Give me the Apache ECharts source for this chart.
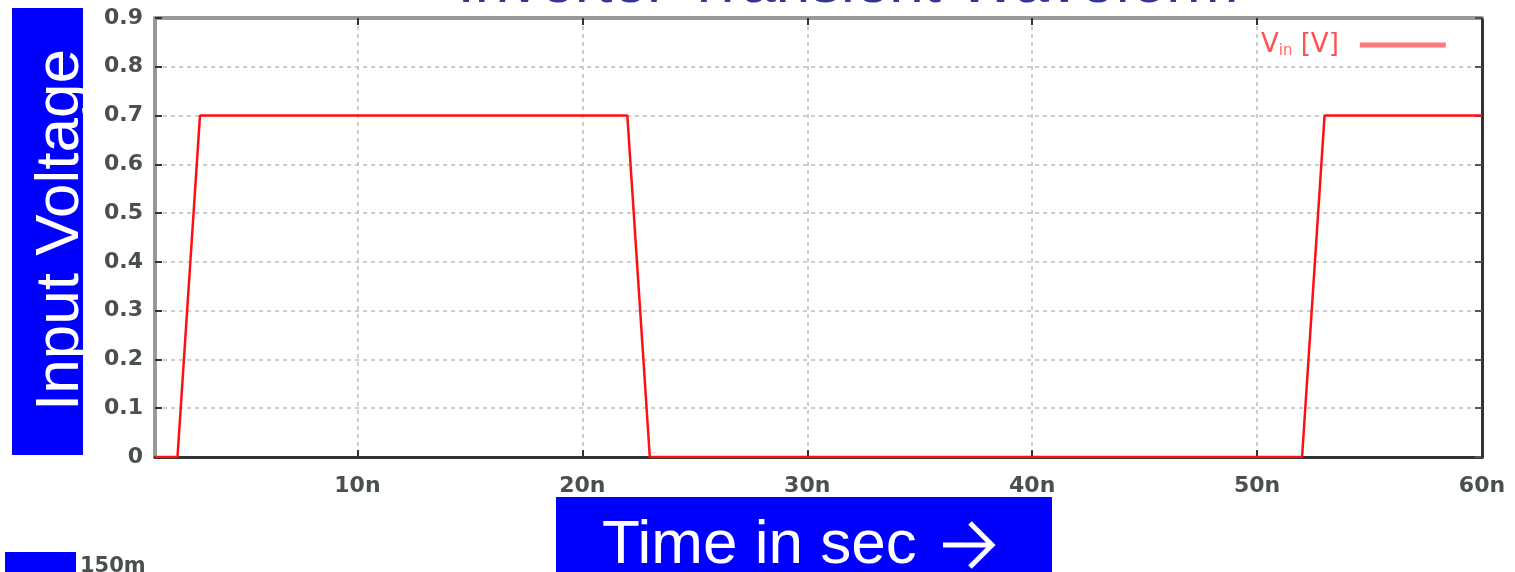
<!DOCTYPE html>
<html>
<head>
<meta charset="utf-8">
<script src="https://cdn.jsdelivr.net/npm/echarts@6/dist/echarts.min.js"></script>
<style>html,body{margin:0;padding:0;background:#fff;}#c{width:1515px;height:572px;}</style>
</head>
<body>
<div id="c"></div>
<script>
// time in ns, voltage in V
const timeNs = [1, 2, 3, 22, 23, 52, 53, 60];
const vin = [0, 0, 0.7, 0.7, 0, 0, 0.7, 0.7];
const xTicks = [10, 20, 30, 40, 50, 60];
const yTicks = [0, 0.1, 0.2, 0.3, 0.4, 0.5, 0.6, 0.7, 0.8, 0.9];
const seriesName = 'Vin';
const titleText = 'Inverter Transient Waveform';
const yTitle = 'Input Voltage';
const xTitle = 'Time in sec';

const chart = echarts.init(document.getElementById('c'), null, {renderer: 'canvas'});
const lblFont = {fontFamily: 'DejaVu Sans', fontWeight: 'bold', fontSize: 22, color: '#4a4f4f'};
const dash = {type: [4, 4], color: '#bdbdbd', width: 1.5};

chart.setOption({
  animation: false,
  grid: {left: 155, right: 33, top: 18, bottom: 115},
  legend: {
    data: [seriesName],
    left: 1256, top: 27, align: 'right',
    itemWidth: 86, itemHeight: 14,
    lineStyle: {color: '#ff7b7b', width: 5},
    itemStyle: {opacity: 0},
    formatter: () => '{a|V}{b|in}{a| [V]}',
    textStyle: {
      padding: [0, 16, 0, 0],
      rich: {
        a: {fontFamily: 'DejaVu Sans', fontSize: 26, color: '#ff5050'},
        b: {fontFamily: 'DejaVu Sans', fontSize: 15, color: '#ff6a6a', verticalAlign: 'bottom', padding: [12, 0, 0, 0]}
      }
    }
  },
  xAxis: [{
    type: 'value', min: 1, max: 60, position: 'bottom',
    axisLine: {show: true, onZero: false, lineStyle: {color: '#333', width: 3}},
    axisTick: {show: true, inside: true, length: 7, customValues: xTicks, lineStyle: {color: '#333', width: 2}},
    axisLabel: Object.assign({customValues: xTicks, margin: 18, formatter: v => v + 'n'}, lblFont),
    splitLine: {show: true, lineStyle: dash}
  }, {
    type: 'value', min: 1, max: 60, position: 'top',
    axisLine: {show: true, onZero: false, lineStyle: {color: '#999', width: 4}},
    axisTick: {show: true, inside: true, length: 7, customValues: xTicks, lineStyle: {color: '#333', width: 2}},
    axisLabel: {show: false},
    splitLine: {show: false}
  }],
  yAxis: [{
    type: 'value', min: 0, max: 0.9, interval: 0.1, position: 'left',
    axisLine: {show: true, onZero: false, lineStyle: {color: '#999', width: 4}},
    axisTick: {show: true, inside: true, length: 7, lineStyle: {color: '#333', width: 2}},
    axisLabel: Object.assign({margin: 12, formatter: v => (Math.abs(v) < 1e-9 ? '0' : v.toFixed(1))}, lblFont),
    splitLine: {show: true, lineStyle: dash}
  }, {
    type: 'value', min: 0, max: 0.9, interval: 0.1, position: 'right',
    axisLine: {show: true, onZero: false, lineStyle: {color: '#333', width: 3}},
    axisTick: {show: true, inside: true, length: 7, lineStyle: {color: '#555', width: 2}},
    axisLabel: {show: false},
    splitLine: {show: false}
  }],
  series: [{
    name: seriesName, type: 'line', xAxisIndex: 0, yAxisIndex: 0,
    data: timeNs.map((t, i) => [t, vin[i]]),
    symbol: 'none', color: '#ff0000',
    lineStyle: {color: '#ff1010', width: 2.5}, z: 3
  }],
  graphic: [
    {type: 'text', z: 10, x: 848, y: -15.5, style: {text: titleText, font: '62px "Liberation Sans", Arial', fill: '#333399', textAlign: 'center', textVerticalAlign: 'middle'}},
    {type: 'rect', z: 10, shape: {x: 12, y: 8, width: 71, height: 447}, style: {fill: '#0000ff'}},
    {type: 'text', z: 11, x: 61, y: 230, rotation: Math.PI / 2, style: {text: yTitle, font: '62px "Liberation Sans", Arial', fill: '#ffffff', textAlign: 'center', textVerticalAlign: 'middle'}},
    {type: 'rect', z: 12, shape: {x: 83, y: 8, width: 14, height: 447}, style: {fill: '#ffffff'}},
    {type: 'rect', z: 10, shape: {x: 556, y: 497, width: 496, height: 80}, style: {fill: '#0000ff'}},
    {type: 'text', z: 11, x: 602, y: 545.5, style: {text: xTitle, font: '62px "Liberation Sans", Arial', fill: '#ffffff', textAlign: 'left', textVerticalAlign: 'middle'}},
    {type: 'polyline', z: 11, shape: {points: [[943, 545], [991, 545]]}, style: {stroke: '#ffffff', lineWidth: 5, fill: null}},
    {type: 'polyline', z: 11, shape: {points: [[970, 523], [992, 545], [970, 567]]}, style: {stroke: '#ffffff', lineWidth: 5, fill: null}},
    {type: 'rect', z: 10, shape: {x: 5, y: 552, width: 71, height: 25}, style: {fill: '#0000ff'}},
    {type: 'text', z: 10, x: 80, y: 556, style: {text: '150m', font: 'bold 21px "DejaVu Sans"', fill: '#4a4f4f', textAlign: 'left', textVerticalAlign: 'top'}}
  ]
});
</script>
</body>
</html>
